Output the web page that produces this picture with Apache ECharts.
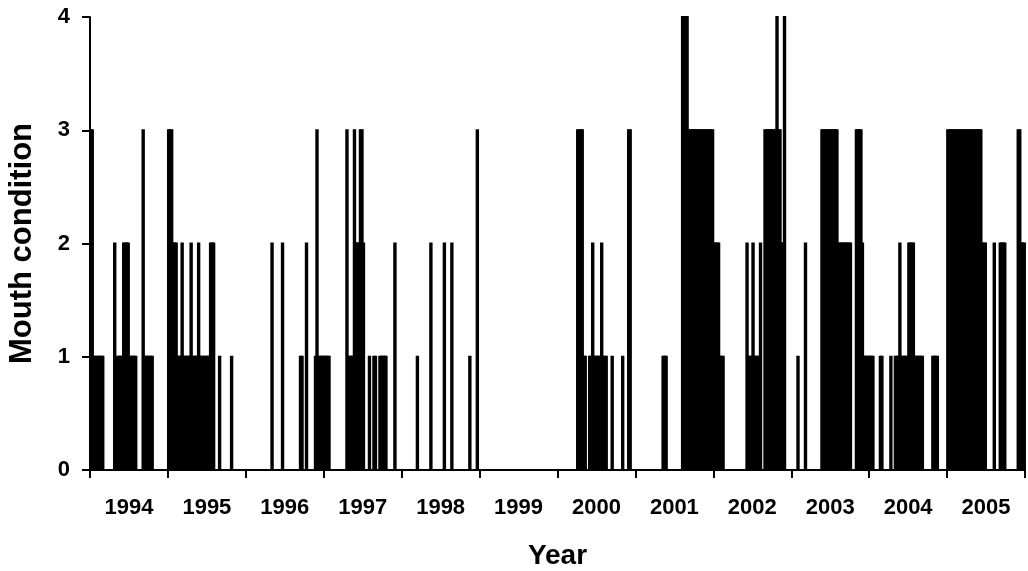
<!DOCTYPE html>
<html>
<head>
<meta charset="utf-8">
<script src="https://cdn.jsdelivr.net/npm/echarts@6/dist/echarts.min.js"></script>
<style>
  html, body { margin: 0; padding: 0; background: #fff; }
  #chart { width: 1028px; height: 571px; }
</style>
</head>
<body>
<div id="chart"></div>
<script>
// Year labels shown under the axis
const years = ['1994', '1995', '1996', '1997', '1998', '1999', '2000', '2001', '2002', '2003', '2004', '2005'];

// Weekly mouth condition (0-4), 52 weeks per year
const w1994 = [3,3, 1,1,1,1,1,1,1, 0,0,0,0,0,0,0, 2, 0, 1,1,1,1, 2,2,2,2, 1,1,1,1,1, 0,0,0,0, 3, 1,1,1,1,1,1, 0,0,0,0,0,0,0,0,0,0];
const w1995 = [3,3,3, 2,2,2, 1,1,1, 2, 1,1,1,1,1, 2, 1,1,1,1, 2, 1,1,1,1,1,1,1, 2,2,2, 0,0,0, 1, 0,0,0,0,0,0,0, 1, 0,0,0,0,0,0,0,0,0];
const w1996 = [0,0,0,0,0,0,0,0,0,0,0,0,0,0,0,0,0, 2, 0,0,0,0,0,0, 2, 0,0,0,0,0,0,0,0,0,0,0, 1,1, 0,0, 2, 0,0,0,0,0, 1, 3, 1,1,1,1];
const w1997 = [1,1,1,1, 0,0,0,0,0,0,0,0,0,0,0, 3, 1,1,1,1, 3, 2,2,2, 3,3, 2, 0,0,0, 1, 0,0, 1,1, 0,0, 1,1,1,1,1, 0,0,0,0,0, 2, 0,0,0,0];
const w1998 = [0,0,0,0,0,0,0,0,0,0, 1, 0,0,0,0,0,0,0,0, 2, 0,0,0,0,0,0,0,0, 2, 0,0,0,0, 2, 0,0,0,0,0,0,0,0,0,0,0, 1, 0,0,0,0, 3, 0];
const w1999 = [0,0,0,0,0,0,0,0,0,0,0,0,0,0,0,0,0,0,0,0,0,0,0,0,0,0,0,0,0,0,0,0,0,0,0,0,0,0,0,0,0,0,0,0,0,0,0,0,0,0,0,0];
const w2000 = [0,0,0,0,0,0,0,0,0,0,0,0,0, 3,3,3,3, 1,1, 0,0, 1,1, 2, 1,1,1,1,1, 2, 1,1,1, 0,0,0, 1, 0,0,0,0,0,0, 1, 0,0,0, 3,3, 0,0,0];
const w2001 = [0,0,0,0,0,0,0,0,0,0,0,0,0,0,0,0,0,0, 1,1,1, 0,0,0,0,0,0,0,0,0,0, 4,4,4,4, 3,3,3,3,3,3,3,3,3,3,3,3,3,3,3,3,3];
const w2002 = [2,2,2,2, 1,1,1, 0,0,0,0,0,0,0,0,0,0,0,0,0,0,0, 2, 1,1,1, 2, 1,1,1,1, 2, 0,0, 3,3,3,3,3,3,3,3, 4, 3,3, 2,2, 4, 0,0,0,0];
const w2003 = [0,0,0,0, 1, 0,0,0,0, 2, 0,0,0,0,0,0,0,0,0,0, 3,3,3,3,3,3,3,3,3,3,3, 2,2,2,2,2,2,2,2,2, 0,0,0, 3,3,3,3, 2, 1,1,1,1];
const w2004 = [1,1,1, 0,0,0,0, 1,1, 0,0,0,0,0, 1, 0,0, 1,1,1, 2, 1,1,1,1,1, 2,2,2,2, 1,1,1,1,1,1, 0,0,0,0,0,0, 1,1,1,1, 0,0,0,0,0,0];
const w2005 = [3,3,3,3,3,3,3,3,3,3,3,3,3,3,3,3,3,3,3,3,3,3,3, 2,2,2, 0,0,0,0,0, 2, 0,0,0, 2,2,2,2, 0,0,0,0,0,0,0,0, 3,3, 2,2,2];

const yearly = [w1994, w1995, w1996, w1997, w1998, w1999, w2000, w2001, w2002, w2003, w2004, w2005];

// Each week is placed at its date in decimal years
const points = [];
yearly.forEach((weeks, k) => {
  weeks.forEach((v, i) => {
    points.push([Number(years[k]) + (i + 0.5) / weeks.length, v]);
  });
});

const FONT = '"Liberation Sans", Arial, Helvetica, sans-serif';
const black = '#000';
const SPIKE_W = 3.4; // drawn width of one weekly spike, px

// One solid spike per week, from the zero line up to the week's value
function renderSpike(params, api) {
  const v = api.value(1);
  if (!v) return null;
  const top = api.coord([api.value(0), v]);
  const base = api.coord([api.value(0), 0]);
  return {
    type: 'rect',
    shape: { x: top[0] - SPIKE_W / 2, y: top[1] - 1, width: SPIKE_W, height: base[1] - top[1] + 1 },
    style: { fill: black }
  };
}

const chart = echarts.init(document.getElementById('chart'), null, { renderer: 'canvas' });
chart.setOption({
  animation: false,
  backgroundColor: '#fff',
  grid: { left: 90, right: 3, top: 17, bottom: 101, containLabel: false, outerBoundsMode: 'none' },
  xAxis: [
    {
      type: 'value',
      min: 1994,
      max: 2006,
      interval: 1,
      axisLine: { show: true, onZero: false, lineStyle: { color: black, width: 2 } },
      axisTick: { show: true, length: 8, lineStyle: { color: black, width: 2 } },
      axisLabel: { show: false },
      splitLine: { show: false }
    },
    {
      type: 'category',
      data: years,
      position: 'bottom',
      boundaryGap: true,
      axisLine: { show: false },
      axisTick: { show: false },
      splitLine: { show: false },
      axisLabel: {
        color: black, fontFamily: FONT, fontWeight: 'bold', fontSize: 22, margin: 27
      },
      name: 'Year',
      nameLocation: 'middle',
      nameGap: 72,
      nameTextStyle: { color: black, fontFamily: FONT, fontWeight: 'bold', fontSize: 28 }
    }
  ],
  yAxis: {
    type: 'value',
    min: 0,
    max: 4,
    interval: 1,
    axisLine: { show: true, lineStyle: { color: black, width: 2 } },
    axisTick: { show: true, length: 8, lineStyle: { color: black, width: 2 } },
    axisLabel: { color: black, fontFamily: FONT, fontWeight: 'bold', fontSize: 22, margin: 20 },
    splitLine: { show: false },
    name: 'Mouth condition',
    nameLocation: 'middle',
    nameRotate: 90,
    nameGap: 52,
    nameTextStyle: { color: black, fontFamily: FONT, fontWeight: 'bold', fontSize: 31 }
  },
  series: [
    {
      type: 'custom',
      xAxisIndex: 0,
      yAxisIndex: 0,
      data: points,
      encode: { x: 0, y: 1 },
      renderItem: renderSpike,
      silent: true,
      z: 1
    }
  ]
});
</script>
</body>
</html>
